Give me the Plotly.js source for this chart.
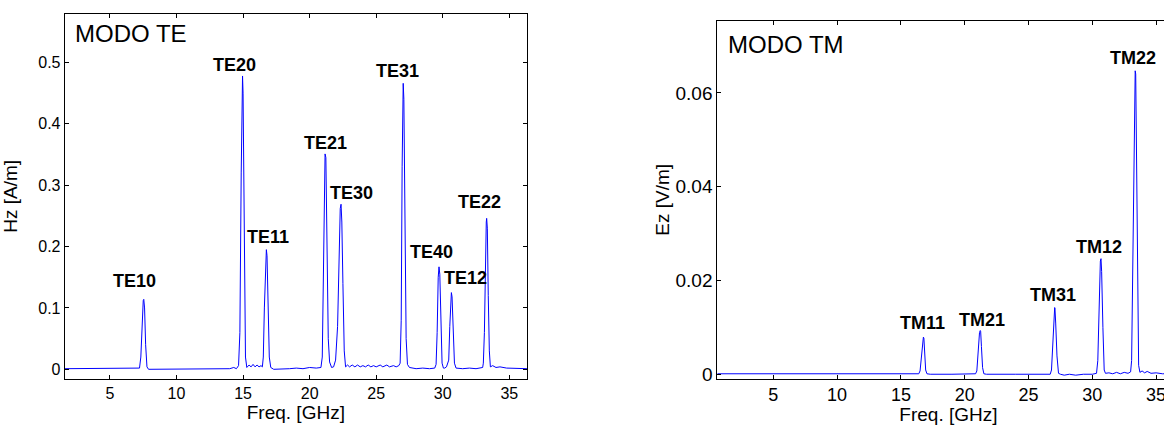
<!DOCTYPE html>
<html>
<head>
<meta charset="utf-8">
<script src="https://cdn.plot.ly/plotly-3.0.1.min.js"></script>
<style>
html, body { margin:0; padding:0; overflow:hidden; background:#fff; width:1164px; height:425px; }
#chart { width:1182px; height:425px; }
</style>
</head>
<body>
<div id="chart"></div>
<script>
// ---- TE mode spectrum (Hz [A/m] vs frequency [GHz]) ----
const freqTE = [1.6, 3.0, 5.0, 7.0, 7.22, 7.32, 7.42, 7.5, 7.54, 7.6, 7.68, 7.78, 7.9, 10.0, 13.0, 14.0, 14.3, 14.5,
  14.66, 14.76, 14.86, 14.93, 14.96, 15.0, 15.08, 15.18, 15.28, 15.45, 15.6, 15.75, 15.9, 16.05, 16.2, 16.35, 16.45,
  16.52, 16.6, 16.68, 16.75, 16.8, 16.88, 16.97, 17.08, 17.3, 18.5, 19.0, 19.5, 20.0, 20.5, 20.85,
  20.95, 21.03, 21.1, 21.16, 21.22, 21.3, 21.4, 21.5, 21.65, 21.8, 21.95, 22.1, 22.22, 22.3, 22.36, 22.42, 22.5, 22.6, 22.7,
  22.85, 23.0, 23.2, 23.4, 23.6, 23.8, 24.0, 24.2, 24.4, 24.6, 24.8, 25.0, 25.3, 25.5, 25.8, 26.0, 26.3, 26.5, 26.7,
  26.8, 26.88, 26.95, 27.0, 27.03, 27.08, 27.15, 27.25, 27.35, 27.5, 28.0, 28.5, 29.0, 29.4,
  29.5, 29.58, 29.66, 29.72, 29.78, 29.86, 29.95, 30.05, 30.15, 30.28,
  30.45, 30.53, 30.6, 30.65, 30.7, 30.78, 30.88, 31.0, 31.5, 32.0, 32.5, 33.0,
  33.05, 33.13, 33.2, 33.27, 33.3, 33.35, 33.42, 33.5, 33.58, 33.75, 34.0, 34.3, 34.8, 35.5, 36.33];
const hzTE = [0.001, 0.001, 0.001, 0.001, 0.002, 0.02, 0.08, 0.112, 0.114, 0.1, 0.04, 0.004, 0.0, 0.0, 0.0, 0.001, 0.003, 0.001,
  0.006, 0.06, 0.32, 0.47, 0.478, 0.45, 0.2, 0.02, 0.003, 0.007, 0.004, 0.008, 0.004, 0.007, 0.004, 0.006, 0.004,
  0.02, 0.1, 0.18, 0.195, 0.185, 0.1, 0.02, 0.003, 0.0, 0.001, 0.002, 0.001, 0.003, 0.002, 0.003,
  0.02, 0.15, 0.33, 0.351, 0.345, 0.2, 0.05, 0.012, 0.003, 0.004, 0.015, 0.07, 0.2, 0.262, 0.269, 0.24, 0.14, 0.03, 0.004,
  0.007, 0.004, 0.007, 0.004, 0.007, 0.004, 0.006, 0.004, 0.007, 0.004, 0.006, 0.004, 0.007, 0.004, 0.007, 0.004, 0.006, 0.004, 0.006,
  0.01, 0.08, 0.33, 0.455, 0.466, 0.44, 0.25, 0.05, 0.008, 0.003, 0.001, 0.002, 0.001, 0.002,
  0.008, 0.06, 0.15, 0.167, 0.155, 0.08, 0.01, 0.002, 0.002, 0.004,
  0.015, 0.07, 0.12, 0.125, 0.118, 0.06, 0.01, 0.002, 0.001, 0.002, 0.001, 0.003,
  0.01, 0.06, 0.18, 0.24, 0.246, 0.23, 0.12, 0.03, 0.004, 0.006, 0.003, 0.004, 0.002, 0.001, 0.001];

// ---- TM mode spectrum (Ez [V/m] vs frequency [GHz]) ----
const freqTM = [0.61, 5, 10, 15, 16.4, 16.5, 16.6, 16.7, 16.76, 16.8, 16.86, 16.94, 17.04, 17.3, 19, 20.85,
  20.95, 21.05, 21.16, 21.22, 21.25, 21.31, 21.4, 21.5, 21.7, 24, 26.7,
  26.8, 26.9, 27.0, 27.05, 27.07, 27.13, 27.23, 27.35, 27.5, 27.8, 28.2, 28.7, 29.3, 30.0, 30.33,
  30.43, 30.53, 30.63, 30.68, 30.73, 30.83, 30.93, 31.03, 31.3, 31.6, 31.9, 32.2, 32.5, 32.8, 33.0,
  33.08, 33.18, 33.28, 33.36, 33.4, 33.45, 33.53, 33.63, 33.73, 33.9, 34.1, 34.3, 34.6, 35.0, 35.5, 36.84];
const ezTM = [0.0002, 0.0002, 0.0002, 0.0002, 0.0002, 0.0008, 0.004, 0.0075, 0.008, 0.0078, 0.005, 0.001, 0.0002, 0.0001, 0.0001, 0.0002,
  0.0008, 0.005, 0.009, 0.0094, 0.0092, 0.006, 0.0015, 0.0002, 0.0001, 0.0001, 0.0001,
  0.001, 0.007, 0.0135, 0.0143, 0.0142, 0.011, 0.004, 0.0003, 0.0001, -0.0001, 0.0001, -0.0001, 0.0001, 0.0001, 0.0003,
  0.003, 0.015, 0.0242, 0.0247, 0.022, 0.01, 0.001, 0.0003, 0.0004, 0.0002, 0.0005, 0.0002, 0.0005, 0.0003, 0.0006,
  0.003, 0.025, 0.058, 0.0647, 0.064, 0.05, 0.018, 0.002, 0.0005, 0.0008, 0.0004, 0.0007, 0.0003, 0.0004, 0.0002, 0.0002];

// ---- tick labels ----
const xTicks = [5, 10, 15, 20, 25, 30, 35];
const yTicksTE = [0, 0.1, 0.2, 0.3, 0.4, 0.5];
const yTickTextTE = ['0', '0.1', '0.2', '0.3', '0.4', '0.5'];
const yTicksTM = [0, 0.02, 0.04, 0.06];
const yTickTextTM = ['0', '0.02', '0.04', '0.06'];

// ---- peak labels ----
const labelsTE = ['TE10', 'TE20', 'TE11', 'TE21', 'TE30', 'TE31', 'TE40', 'TE12', 'TE22'];
const labelXTE = [6.85, 14.35, 16.89, 21.2, 23.15, 26.57, 29.19, 31.74, 32.78];
const labelYTE = [0.144, 0.496, 0.216, 0.369, 0.287, 0.486, 0.1915, 0.148, 0.273];
const labelsTM = ['TM11', 'TM21', 'TM31', 'TM12', 'TM22'];
const labelXTM = [16.68, 21.34, 26.91, 30.53, 33.18];
const labelYTM = [0.0111, 0.0117, 0.0169, 0.0272, 0.0674];

const FONT = 'Liberation Sans, Arial, Helvetica, sans-serif';
const W = 1182, H = 425;

const traces = [
  {x: freqTE, y: hzTE, type: 'scatter', mode: 'lines', line: {color: '#0000ff', width: 1}, xaxis: 'x', yaxis: 'y', hoverinfo: 'skip'},
  {x: freqTM, y: ezTM, type: 'scatter', mode: 'lines', line: {color: '#0000ff', width: 1}, xaxis: 'x2', yaxis: 'y2', hoverinfo: 'skip'}
];

const annotations = [];
labelsTE.forEach((t, i) => annotations.push({
  text: '<b>' + t + '</b>', x: labelXTE[i], y: labelYTE[i], xref: 'x', yref: 'y',
  showarrow: false, xanchor: 'center', yanchor: 'middle', font: {family: FONT, size: 18, color: '#000'}
}));
labelsTM.forEach((t, i) => annotations.push({
  text: '<b>' + t + '</b>', x: labelXTM[i], y: labelYTM[i], xref: 'x2', yref: 'y2',
  showarrow: false, xanchor: 'center', yanchor: 'middle', font: {family: FONT, size: 18, color: '#000'}
}));
annotations.push({text: 'MODO TE', x: 2.19, y: 0.547, xref: 'x', yref: 'y', showarrow: false,
  xanchor: 'left', yanchor: 'middle', font: {family: FONT, size: 24, color: '#000'}});
annotations.push({text: 'MODO TM', x: 1.32, y: 0.0702, xref: 'x2', yref: 'y2', showarrow: false,
  xanchor: 'left', yanchor: 'middle', font: {family: FONT, size: 24, color: '#000'}});

function xAx(domain, range, anchor, tickSize) {
  return {
    domain: domain, range: range, anchor: anchor,
    tickmode: 'array', tickvals: xTicks, ticktext: xTicks.map(String),
    ticks: 'inside', ticklen: 4, tickwidth: 1, tickcolor: '#000',
    showline: true, linecolor: '#000', linewidth: 1, mirror: 'ticks',
    showgrid: false, zeroline: false,
    tickfont: {family: FONT, size: tickSize, color: '#000'},
    title: {text: 'Freq. [GHz]', font: {family: FONT, size: 19, color: '#000'}, standoff: 2},
    automargin: false
  };
}
function yAx(domain, range, anchor, vals, text, title, tickSize) {
  return {
    domain: domain, range: range, anchor: anchor,
    tickmode: 'array', tickvals: vals, ticktext: text,
    ticks: 'inside', ticklen: 4, tickwidth: 1, tickcolor: '#000',
    showline: true, linecolor: '#000', linewidth: 1, mirror: 'ticks',
    showgrid: false, zeroline: false,
    tickfont: {family: FONT, size: tickSize, color: '#000'},
    title: {text: title, font: {family: FONT, size: 19, color: '#000'}},
    automargin: false
  };
}

const layout = {
  width: W, height: H,
  margin: {l: 0, r: 0, t: 0, b: 0},
  paper_bgcolor: '#fff', plot_bgcolor: '#fff',
  showlegend: false,
  xaxis: xAx([64.7 / W, 527 / W], [1.6, 36.33], 'y', 16),
  yaxis: yAx([1 - 378.7 / H, 1 - 14 / H], [-0.0153, 0.579], 'x', yTicksTE, yTickTextTE, 'Hz [A/m]', 16),
  xaxis2: xAx([717.3 / W, 1179.6 / W], [0.61, 36.84], 'y2', 18),
  yaxis2: yAx([1 - 378.7 / H, 1 - 21 / H], [-0.00085, 0.0753], 'x2', yTicksTM, yTickTextTM, 'Ez [V/m]', 19),
  annotations: annotations
};

Plotly.newPlot('chart', traces, layout, {staticPlot: true, displayModeBar: false});
</script>
</body>
</html>
